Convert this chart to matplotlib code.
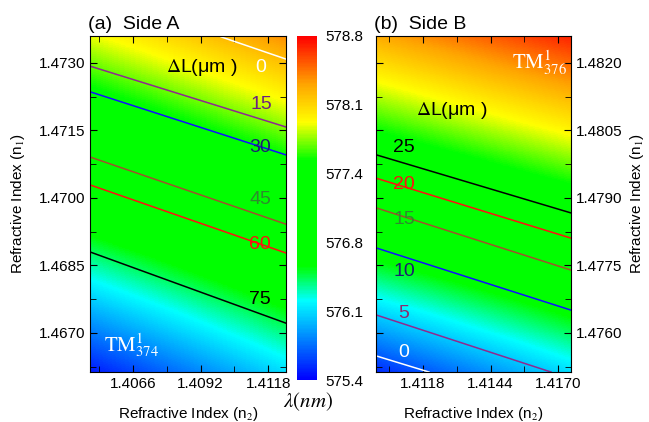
import numpy as np
import matplotlib
matplotlib.use("Agg")
import matplotlib.pyplot as plt
from matplotlib.colors import LinearSegmentedColormap

plt.rcParams['font.family'] = ['Liberation Sans', 'DejaVu Sans']
plt.rcParams['mathtext.fontset'] = 'stix'

# wavelength colour scale
lam_min, lam_max = 575.4, 578.8
cbar_labels = ['575.4', '576.1', '576.8', '577.4', '578.1', '578.8']

# panel A (Side A): n2 on x, n1 on y
a_n2 = [1.40494, 1.41247]
a_n1 = [1.46612, 1.47360]
# wavelength read at [bottom, middle, top] x [left, right] of the panel
a_lam = [[575.47, 576.08],
         [576.76, 577.24],
         [577.92, 578.39]]
a_levels = ['0', '15', '30', '45', '60', '75']
a_x0 = [1.40999, 1.40494, 1.40494, 1.40494, 1.40494, 1.40494]
a_x1 = [1.41247, 1.41247, 1.41247, 1.41247, 1.41247, 1.41247]
a_y0 = [1.47358, 1.47293, 1.47236, 1.47091, 1.47029, 1.46880]
a_y1 = [1.47309, 1.47158, 1.47096, 1.46942, 1.46878, 1.46722]
a_xticks = [1.4066, 1.4092, 1.4118]
a_yticks = [1.4670, 1.4685, 1.4700, 1.4715, 1.4730]

# panel B (Side B)
b_n2 = [1.40999, 1.41748]
b_n1 = [1.47512, 1.48260]
b_lam = [[575.52, 576.08],
         [577.02, 577.42],
         [578.29, 578.70]]
b_levels = ['25', '20', '15', '10', '5', '0']
b_x0 = [1.40999, 1.40999, 1.40999, 1.40999, 1.40999, 1.40999]
b_x1 = [1.41748, 1.41748, 1.41748, 1.41748, 1.41673, 1.41203]
b_y0 = [1.47996, 1.47944, 1.47878, 1.47789, 1.47640, 1.47549]
b_y1 = [1.47867, 1.47811, 1.47740, 1.47651, 1.47513, 1.47513]
b_xticks = [1.4118, 1.4144, 1.4170]
b_yticks = [1.4760, 1.4775, 1.4790, 1.4805, 1.4820]

line_colors = {'0': 'white', '15': '#8e2a90', '30': '#1010ff', '45': '#a0522d',
               '60': '#ff1010', '75': 'black', '25': 'black', '20': '#ff1010',
               '10': '#1010ff', '5': '#8e2a90'}
text_colors = {'0': 'white', '15': '#6e2080', '30': '#1c1f70', '45': '#2e8b2e',
               '60': '#ff1010', '75': 'black', '25': 'black', '20': '#ff1010',
               '10': '#1c1f70', '5': '#8e2a70'}
b_line_colors = dict(line_colors)
b_line_colors['15'] = '#a0522d'
b_text_colors = dict(text_colors)
b_text_colors['15'] = '#2e8b2e'

cmap = LinearSegmentedColormap.from_list('lam', [
    (0.0, '#0000ff'), (0.23, '#00ffff'), (0.33, '#00ff00'), (0.64, '#00ff00'),
    (0.75, '#ffff00'), (0.86, '#ffa500'), (1.0, '#ff0000')])

fig = plt.figure(figsize=(6.49, 4.22), dpi=100)
axA = fig.add_axes([0.1387, 0.1173, 0.3013, 0.7974])
cax = fig.add_axes([0.4576, 0.0995, 0.0308, 0.8152])
axB = fig.add_axes([0.5794, 0.1173, 0.2997, 0.7974])


def draw_panel(ax, n2, n1, lam, levels, x0, x1, y0, y1, lcol):
    # samples centred on the panel edges, values blended before colouring
    dx = n2[1] - n2[0]
    dy = n1[1] - n1[0]
    ext = [n2[0] - dx / 2, n2[1] + dx / 2, n1[0] - dy / 4, n1[1] + dy / 4]
    m = ax.imshow(np.array(lam), origin='lower', extent=ext, aspect='auto',
                  cmap=cmap, vmin=lam_min, vmax=lam_max,
                  interpolation='bilinear', interpolation_stage='data')
    for lv, xa, xb, ya, yb in zip(levels, x0, x1, y0, y1):
        ax.plot([xa, xb], [ya, yb], color=lcol[lv], lw=1.1)
    ax.set_xlim(n2)
    ax.set_ylim(n1)
    ax.tick_params(which='both', direction='in', top=True, right=True,
                   labelsize=11)
    ax.tick_params(which='major', length=5)
    ax.tick_params(which='minor', length=4)
    return m


m = draw_panel(axA, a_n2, a_n1, a_lam, a_levels, a_x0, a_x1, a_y0, a_y1,
               line_colors)
axA.set_xticks(a_xticks)
axA.set_xticks([1.4053, 1.4079, 1.4105], minor=True)
axA.set_yticks(a_yticks)
axA.set_yticks([1.46625, 1.46775, 1.46925, 1.47075, 1.47225], minor=True)
axA.set_xticklabels(['%.4f' % v for v in a_xticks])
axA.set_yticklabels(['%.4f' % v for v in a_yticks])
axA.set_xlabel('Refractive Index (n$_2$)', fontsize=11, labelpad=10)
axA.set_ylabel('Refractive Index (n$_1$)', fontsize=11, labelpad=8)
axA.set_title('(a)  Side A', fontsize=14, loc='left', x=-0.01, pad=5)

a_pos = [(0.875, 0.905), (0.875, 0.797), (0.870, 0.668), (0.870, 0.513),
         (0.870, 0.380), (0.870, 0.216)]
for lv, (fx, fy) in zip(a_levels, a_pos):
    axA.text(fx, fy, lv, transform=axA.transAxes, color=text_colors[lv],
             fontsize=14, ha='center', va='center')
axA.text(0.57, 0.905, r'$\Delta$L(μm )', transform=axA.transAxes,
         fontsize=14, ha='center', va='center')
axA.text(0.21, 0.08, r'$\mathrm{TM}_{374}^{1}$', transform=axA.transAxes,
         color='white', fontsize=15, ha='center', va='center')

draw_panel(axB, b_n2, b_n1, b_lam, b_levels, b_x0, b_x1, b_y0, b_y1,
           b_line_colors)
axB.set_xticks(b_xticks)
axB.set_xticks([1.4105, 1.4131, 1.4157], minor=True)
axB.set_yticks(b_yticks)
axB.set_yticks([1.47525, 1.47675, 1.47825, 1.47975, 1.48125], minor=True)
axB.set_xticklabels(['%.4f' % v for v in b_xticks])
axB.set_yticklabels(['%.4f' % v for v in b_yticks])
axB.tick_params(labelleft=False, labelright=True)
axB.yaxis.set_label_position('right')
axB.set_xlabel('Refractive Index (n$_2$)', fontsize=11, labelpad=10)
axB.set_ylabel('Refractive Index (n$_1$)', fontsize=11, labelpad=4)
axB.set_title('(b)  Side B', fontsize=14, loc='left', x=-0.01, pad=5)

b_pos = [(0.144, 0.668), (0.144, 0.558), (0.144, 0.454), (0.144, 0.300),
         (0.144, 0.175), (0.144, 0.059)]
for lv, (fx, fy) in zip(b_levels, b_pos):
    axB.text(fx, fy, lv, transform=axB.transAxes, color=b_text_colors[lv],
             fontsize=14, ha='center', va='center')
axB.text(0.39, 0.78, r'$\Delta$L(μm )', transform=axB.transAxes,
         fontsize=14, ha='center', va='center')
axB.text(0.84, 0.92, r'$\mathrm{TM}_{376}^{1}$', transform=axB.transAxes,
         color='white', fontsize=15, ha='center', va='center')

cb = fig.colorbar(m, cax=cax)
cb.outline.set_visible(False)
cb.set_ticks(np.linspace(lam_min, lam_max, 6))
cb.set_ticklabels(cbar_labels)
cb.ax.tick_params(length=0, labelsize=11, pad=6)
fig.text(0.474, 0.048, r'$\lambda(nm)$', fontsize=15, ha='center', va='center')

fig.savefig('out.png', dpi=100)
